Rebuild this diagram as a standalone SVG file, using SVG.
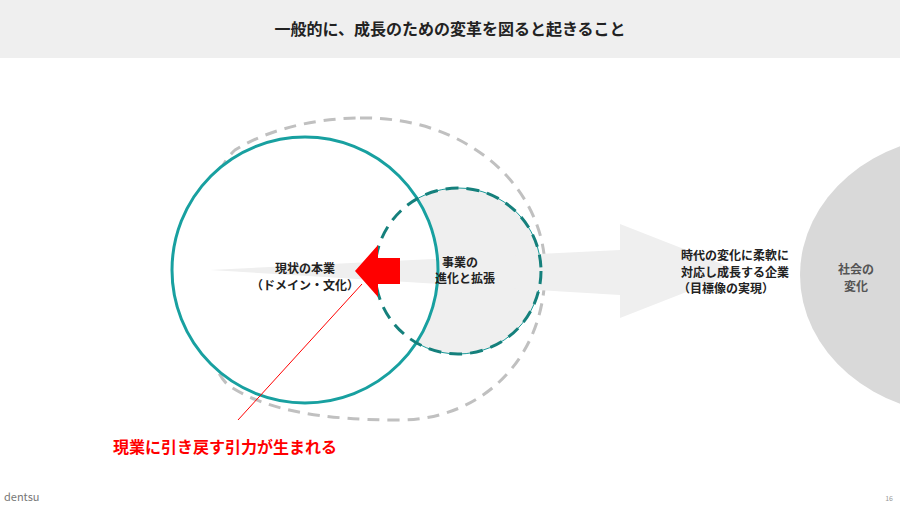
<svg xmlns="http://www.w3.org/2000/svg" width="900" height="509" viewBox="0 0 900 509">
<style>
text{font-family:"Noto Sans CJK JP","Liberation Sans",sans-serif;font-weight:bold;fill:#222}
.l{font-size:12px;text-anchor:middle}
</style>
<rect width="900" height="509" fill="#fff"/>
<rect width="900" height="58" fill="#efefef"/>
<text x="450" y="35" font-size="16" text-anchor="middle">一般的に、成長のための変革を図ると起きること</text>
<g id="society"><ellipse cx="965" cy="275" rx="165" ry="140" fill="#d9d9d9"/><text class="l" x="856" y="274" style="fill:#555">社会の</text><text class="l" x="856" y="291" style="fill:#555">変化</text></g>
<g id="outer"><path d="M360,118 C470,116 545,190 545,270 C545,360 480,420 400,420 C320,420 265,410 228,385 C190,350 190,190 235,150 C270,128 320,118 360,118 Z" fill="none" stroke="#c0c0c0" stroke-width="3" stroke-dasharray="12 8"/></g>
<g id="expand"><circle cx="458" cy="271" r="83" fill="#efefef" stroke="#1a9a9a" stroke-width="1"/></g>
<circle cx="305" cy="270" r="133" fill="#fff"/>
<g id="connectors">
<polygon points="210,270 620,250 620,224 740,271 620,318 620,295" fill="#efefef"/>
</g>
<g id="core"><circle cx="305" cy="270" r="133" fill="none" stroke="#18a0a0" stroke-width="3"/>
<text class="l" x="305" y="273">現状の本業</text><text class="l" x="305" y="290">（ドメイン・文化）</text></g>
<circle cx="458" cy="271" r="83" fill="none" stroke="#15807c" stroke-width="3" stroke-dasharray="13 8"/>
<text class="l" x="460" y="267">事業の</text><text class="l" x="465" y="283">進化と拡張</text>
<g id="pull"><polygon points="355,271 378,245 378,258 400,258 400,284 378,284 378,297" fill="#f00"/>
<line x1="362" y1="284" x2="238" y2="420" stroke="#f00" stroke-width="1"/>
<text x="113" y="453" font-size="16" style="fill:#f00">現業に引き戻す引力が生まれる</text></g>
<g id="goal"><text class="l" x="735" y="260">時代の変化に柔軟に</text><text class="l" x="735" y="277">対応し成長する企業</text><text class="l" x="726" y="293">（目標像の実現）</text></g>
<text x="4" y="501" font-size="11" style="fill:#777;font-weight:normal">dentsu</text>
<text x="893" y="501" font-size="7" text-anchor="end" style="fill:#999;font-weight:normal">16</text>
</svg>
